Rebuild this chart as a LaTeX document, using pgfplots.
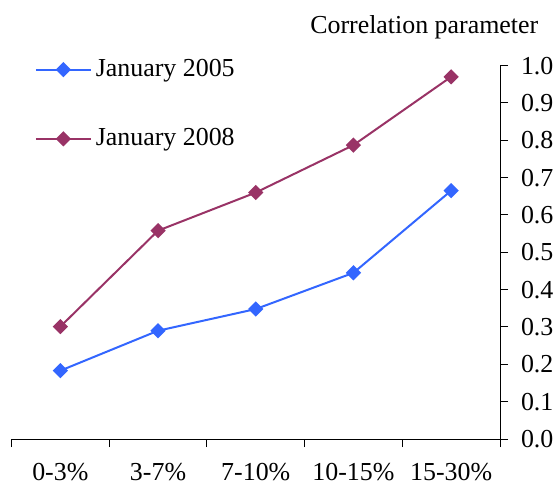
\documentclass[border=0pt]{standalone}
\usepackage{fontspec}
\setmainfont{Liberation Serif}
\usepackage{pgfplots}
\pgfplotsset{compat=1.18}

\definecolor{jan05}{HTML}{3366FF}
\definecolor{jan08}{HTML}{993366}

\begin{document}
\begin{tikzpicture}
\begin{axis}[
    name=ax,
    scale only axis,
    width=244.25bp, height=186.7bp,
    xmin=-0.5, xmax=4.5,
    ymin=0, ymax=1,
    axis x line=bottom,
    axis y line=right,
    axis line style={black, line width=0.5bp, -},
    tick style={black, line width=0.5bp},
    tick align=outside,
    major tick length=4bp,
    xtick={-0.5,0.5,1.5,2.5,3.5,4.5},
    x tick label as interval,
    xticklabels={0-3\%,3-7\%,7-10\%,10-15\%,15-30\%},
    xticklabel style={yshift=-4.5bp},
    ytick={0,0.1,...,1.0},
    yticklabel style={
        /pgf/number format/fixed,
        /pgf/number format/fixed zerofill,
        /pgf/number format/precision=1,
        /pgf/number format/assume math mode=true,
        xshift=3bp},
    tick label style={font=\fontsize{13}{15}\selectfont},
    clip=false,
    legend cell align=left,
    legend style={draw=none, fill=none, at={(axis description cs:0.047,1.028)}, anchor=north west,
        font=\fontsize{13}{15}\selectfont, row sep=20.5bp, inner sep=0pt},
    legend image code/.code={
        \draw[mark repeat=2, mark phase=2] plot coordinates {(0bp,0bp) (13.75bp,0bp) (27.5bp,0bp)};
    },
]
\addplot[jan05, line width=1bp, mark=square*, mark size=2.2bp, mark options={rotate=45, solid}]
    coordinates {(0,0.183) (1,0.290) (2,0.348) (3,0.445) (4,0.665)};
\addlegendentry{January 2005}
\addplot[jan08, line width=1bp, mark=square*, mark size=2.2bp, mark options={rotate=45, solid}]
    coordinates {(0,0.301) (1,0.558) (2,0.660) (3,0.787) (4,0.970)};
\addlegendentry{January 2008}
\node[anchor=base, font=\fontsize{13}{15}\selectfont] at (axis description cs:0.845,1.087) {Correlation parameter};
\end{axis}
\pgfresetboundingbox
\path[use as bounding box] (ax.south west) ++(-5.75bp,-22.5bp) rectangle ++(276.5bp,242bp);
\end{tikzpicture}
\end{document}
